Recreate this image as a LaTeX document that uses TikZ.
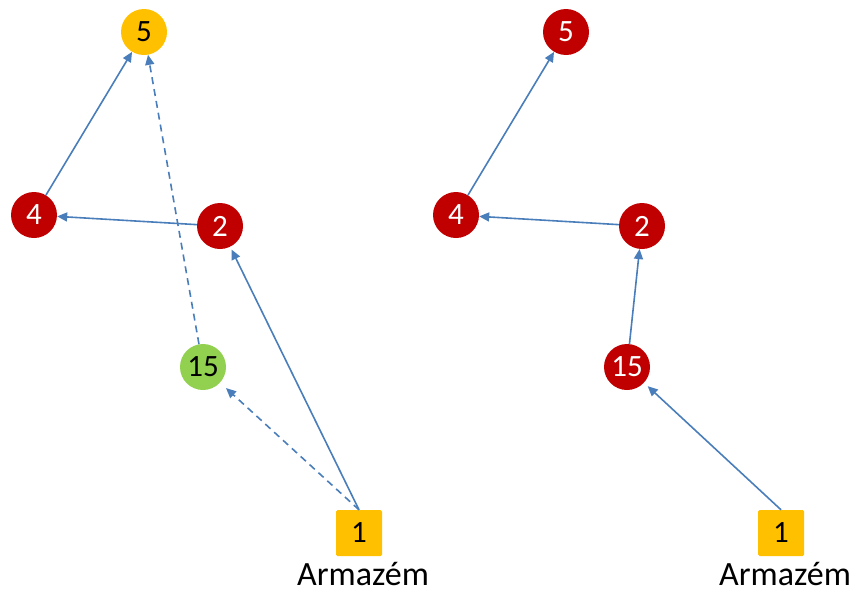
\documentclass[tikz,border=0pt]{standalone}
\usepackage{fontspec}
\setmainfont{Carlito}
\usetikzlibrary{arrows.meta}
\definecolor{cred}{HTML}{C00000}
\definecolor{cyel}{HTML}{FFC000}
\definecolor{cgrn}{HTML}{92D050}
\definecolor{cblue}{HTML}{4A7EBB}
\tikzset{
  circ/.style={circle, minimum size=46pt, inner sep=0pt, font=\fontsize{31}{31}\selectfont},
  redc/.style={circ, fill=cred, text=white},
  yelc/.style={circ, fill=cyel, text=black},
  grnc/.style={circ, fill=cgrn, text=black},
  depot/.style={rectangle, minimum size=46pt, inner sep=0pt, fill=cyel, rounded corners=1.5pt, font=\fontsize{31}{31}\selectfont},
  lbl/.style={font=\fontsize{34}{34}\selectfont, inner sep=0pt, anchor=base},
  arr/.style={draw=cblue, line width=1.6pt, -{Triangle[length=10pt,width=9pt]}},
  darr/.style={arr, dash pattern=on 7pt off 5pt},
}
\begin{document}
\begin{tikzpicture}[x=1pt,y=-1pt]
\useasboundingbox (0,0) rectangle (856,592);
% left
\node[yelc] (l5) at (144,32) {5};
\node[redc] (l4) at (34,215) {4};
\node[redc] (l2) at (220,226) {2};
\node[grnc] (l15) at (203,367) {15};
\node[depot] (l1) at (359,533) {1};
\node[lbl] (la) at (363,585) {Armazém};
\draw[arr] (l4) -- (l5);
\draw[arr] (l2) -- (l4);
\draw[arr, shorten >=3pt] (l1.north) -- (l2);
\draw[darr, shorten >=8pt] (l1.north) -- (l15);
\draw[darr] (l15) -- (l5);
% right
\node[redc] (r5) at (566,32) {5};
\node[redc] (r4) at (456,215) {4};
\node[redc] (r2) at (642,226) {2};
\node[redc] (r15) at (627,367) {15};
\node[depot] (r1) at (781,533) {1};
\node[lbl] (ra) at (785,585) {Armazém};
\draw[arr] (r4) -- (r5);
\draw[arr] (r2) -- (r4);
\draw[arr] (r15) -- (r2);
\draw[arr, shorten >=5pt] (r1.north) -- (r15);
\end{tikzpicture}
\end{document}
